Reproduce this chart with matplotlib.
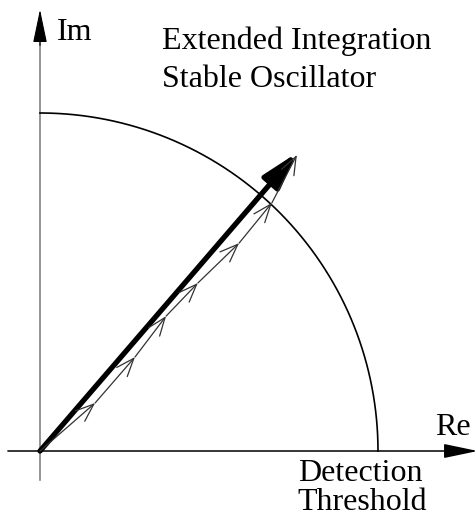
import matplotlib
matplotlib.use("Agg")
import matplotlib.pyplot as plt
import numpy as np

# partial sums of the integrated phasors (units of detection threshold)
chain_re = [0.0, 0.163, 0.281, 0.373, 0.467, 0.589, 0.686, 0.760]
chain_im = [0.0, 0.142, 0.278, 0.399, 0.497, 0.615, 0.734, 0.876]
threshold = 1.0

title_lines = ["Extended Integration", "Stable Oscillator"]
threshold_lines = ["Detection", "Threshold"]

plt.rcParams['font.family'] = ['Liberation Serif', 'DejaVu Serif']

fig = plt.figure(figsize=(4.77, 5.18), dpi=100)
ax = fig.add_axes([0, 0, 1, 1])
ax.set_xlim(-40 / 338, 437 / 338)
ax.set_ylim(-67 / 338, 451 / 338)
ax.axis('off')

head = "-|>,head_length=1.05,head_width=0.22"
# Re axis
ax.annotate("", xy=(1.295, 0), xytext=(-0.095, 0), annotation_clip=False,
            arrowprops=dict(arrowstyle=head, mutation_scale=20, color='black',
                            lw=1.1, shrinkA=0, shrinkB=0))
# Im axis: grey line, black head
ax.plot([0, 0], [-0.086, 1.25], color='#777777', lw=1.1)
ax.annotate("", xy=(0, 1.306), xytext=(0, 1.20), annotation_clip=False,
            arrowprops=dict(arrowstyle=head, mutation_scale=20, color='black',
                            lw=0.8, shrinkA=0, shrinkB=0))

# detection threshold arc
t = np.linspace(0, np.pi / 2, 200)
ax.plot(threshold * np.cos(t), threshold * np.sin(t), color='black', lw=1.2)

# resultant phasor
ax.annotate("", xy=(chain_re[-1], chain_im[-1] + 0.006), xytext=(0, 0),
            arrowprops=dict(arrowstyle="-|>,head_length=1.1,head_width=0.32",
                            mutation_scale=20, color='black', lw=3.8,
                            shrinkA=0, shrinkB=0))

# individual phasors, tip to tail
for i in range(1, len(chain_re)):
    ax.annotate("", xy=(chain_re[i], chain_im[i]),
                xytext=(chain_re[i - 1], chain_im[i - 1]),
                arrowprops=dict(arrowstyle="->,head_length=0.65,head_width=0.25",
                                mutation_scale=20, color='#333333', lw=0.9,
                                shrinkA=0, shrinkB=0))

fs = 23
ax.text(0.050, 1.216, "Im", fontsize=fs, va='baseline')
ax.text(1.169, 0.047, "Re", fontsize=fs, va='baseline')
ax.text(0.361, 1.077, "\n".join(title_lines), fontsize=fs, va='baseline',
        linespacing=1.42)
ax.text(0.763, -0.175, "\n".join(threshold_lines), fontsize=fs, va='baseline',
        linespacing=1.0)

fig.savefig("out.png", dpi=100)
